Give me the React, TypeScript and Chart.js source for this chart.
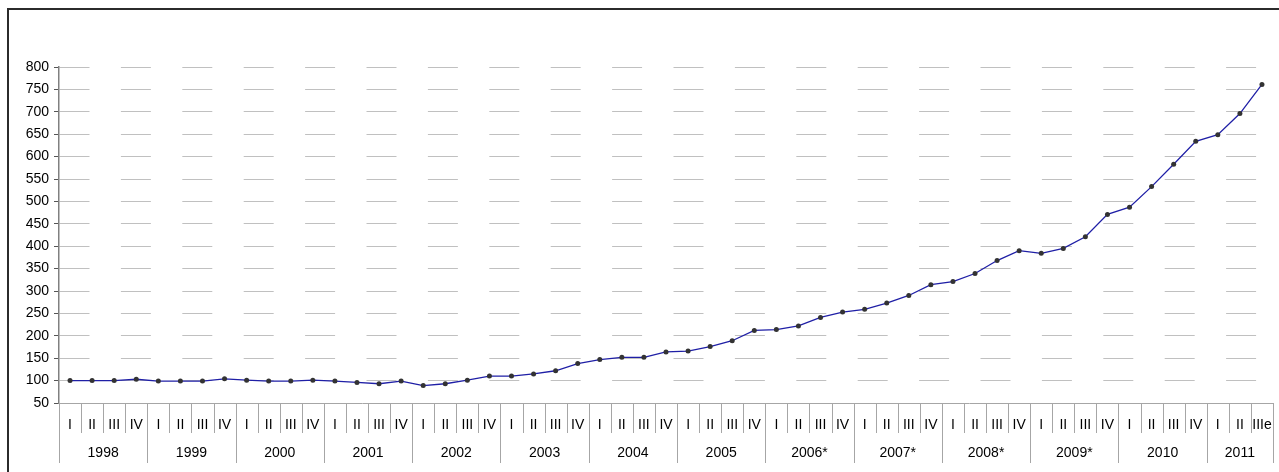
import React, { useEffect, useRef } from "react";
import { Chart, registerables } from "chart.js";

Chart.register(...registerables);

const years = ["1998", "1999", "2000", "2001", "2002", "2003", "2004", "2005", "2006*", "2007*", "2008*", "2009*", "2010", "2011"];

const quarterLabels = [
  "I", "II", "III", "IV",
  "I", "II", "III", "IV",
  "I", "II", "III", "IV",
  "I", "II", "III", "IV",
  "I", "II", "III", "IV",
  "I", "II", "III", "IV",
  "I", "II", "III", "IV",
  "I", "II", "III", "IV",
  "I", "II", "III", "IV",
  "I", "II", "III", "IV",
  "I", "II", "III", "IV",
  "I", "II", "III", "IV",
  "I", "II", "III", "IV",
  "I", "II", "IIIe",
];

const values = [
  100, 100, 100, 103,
  99, 99, 99, 104,
  101, 99, 99, 101,
  99, 96, 93, 99,
  89, 93, 101, 110,
  110, 115, 122, 138,
  147, 152, 152, 164,
  166, 176, 189, 212,
  214, 222, 241, 253,
  259, 273, 290, 314,
  321, 339, 368, 390,
  384, 395, 421, 471,
  487, 533, 583, 634,
  649, 696, 761,
];

const yTicks = { min: 50, max: 800, step: 50 };

const FONT = "'Liberation Sans', Arial, sans-serif";

const axisPlugin = {
  id: "groupedAxis",
  beforeDraw(chart: any) {
    const ctx = chart.ctx;
    ctx.save();
    ctx.fillStyle = "#2b2b2b";
    ctx.fillRect(7, 8, 2, 464);
    ctx.fillRect(7, 8, 1272, 2);
    ctx.restore();
  },
  afterDraw(chart: any) {
    const ctx = chart.ctx;
    const xs = chart.scales.x;
    const area = chart.chartArea;
    const n = quarterLabels.length;
    const half = (xs.getPixelForValue(1) - xs.getPixelForValue(0)) / 2;
    const y0 = area.bottom;
    const rowH = 30;
    ctx.save();
    ctx.strokeStyle = "#a6a6a6";
    ctx.lineWidth = 1;
    ctx.beginPath();
    ctx.moveTo(area.left, Math.round(y0) + 0.5);
    ctx.lineTo(area.right, Math.round(y0) + 0.5);
    ctx.stroke();
    for (let i = 0; i <= n; i++) {
      const x = i < n ? xs.getPixelForValue(i) - half : xs.getPixelForValue(n - 1) + half;
      const isYear = i % 4 === 0 || i === n;
      const px = Math.round(x) + 0.5;
      ctx.beginPath();
      ctx.moveTo(px, y0);
      ctx.lineTo(px, y0 + (isYear ? rowH * 2 : rowH));
      ctx.stroke();
    }
    ctx.fillStyle = "#000";
    ctx.font = `14px ${FONT}`;
    ctx.textAlign = "center";
    ctx.textBaseline = "middle";
    for (let i = 0; i < n; i++) {
      ctx.fillText(quarterLabels[i], xs.getPixelForValue(i), y0 + 22);
    }
    for (let g = 0; g < years.length; g++) {
      const first = g * 4;
      const last = Math.min(first + 3, n - 1);
      const cx = (xs.getPixelForValue(first) + xs.getPixelForValue(last)) / 2;
      ctx.fillText(years[g], cx, y0 + 50);
    }
    ctx.restore();
  },
};

export default function App() {
  const ref = useRef<HTMLCanvasElement | null>(null);
  useEffect(() => {
    if (!ref.current) return;
    const chart = new Chart(ref.current, {
      type: "line",
      data: {
        labels: quarterLabels.map((q, i) => `${years[Math.floor(i / 4)]} ${q}`),
        datasets: [
          {
            data: values,
            borderColor: "#1f1fa6",
            borderWidth: 1.3,
            pointRadius: 2.5,
            pointBackgroundColor: "#333333",
            pointBorderWidth: 0,
            tension: 0,
          },
        ],
      },
      options: {
        animation: false,
        responsive: false,
        devicePixelRatio: 1,
        layout: { padding: { left: 0, right: 6, top: 67, bottom: 0 } },
        plugins: { legend: { display: false }, tooltip: { enabled: false } },
        scales: {
          x: {
            type: "category",
            offset: true,
            grid: { display: false },
            border: { display: false },
            ticks: { display: false },
            afterFit: (s: any) => {
              s.height = 69;
            },
          },
          y: {
            min: yTicks.min,
            max: yTicks.max,
            ticks: {
              stepSize: yTicks.step,
              color: "#000",
              font: { family: FONT, size: 14 },
              padding: 5,
            },
            grid: {
              color: "#c0c0c0",
              lineWidth: 1,
              tickLength: 5,
              tickColor: "#555",
              tickWidth: 1,
            },
            border: { display: true, color: "#808080", width: 1.5, dash: [30, 31.4] },
            afterFit: (s: any) => {
              s.width = 59;
            },
          },
        },
      },
      plugins: [axisPlugin],
    });
    return () => chart.destroy();
  }, []);
  return (
    <canvas
      ref={ref}
      width={1279}
      height={472}
      style={{ position: "absolute", left: 0, top: 0, width: 1279, height: 472, display: "block" }}
    />
  );
}
